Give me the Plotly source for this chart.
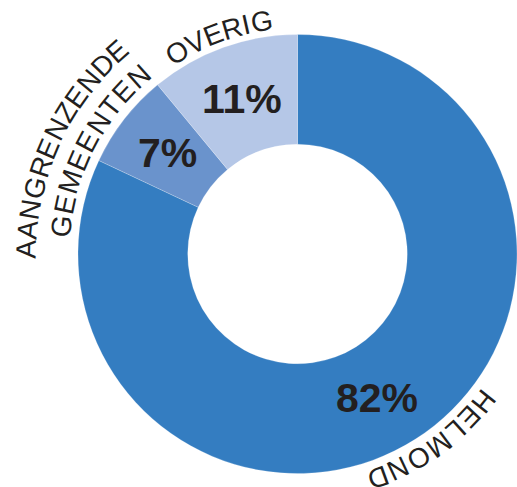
import math
import plotly.graph_objects as go

labels = ["HELMOND", "AANGRENZENDE GEMEENTEN", "OVERIG"]
values = [82, 7, 11]
pct_text = ["82%", "7%", "11%"]
colors = ["#347dc1", "#6a93cc", "#b5c7e7"]

W, H = 517, 487
dom_x = [78 / W, 1.0]
dom_y = [13 / H, 453 / H]
HOLE = 0.5

fig = go.Figure(go.Pie(
    labels=labels,
    values=values,
    textinfo="none",
    marker=dict(colors=colors, line=dict(color="rgba(255,255,255,0.35)", width=0.6)),
    hole=HOLE,
    sort=False,
    direction="clockwise",
    rotation=0,
    showlegend=False,
    domain=dict(x=dom_x, y=dom_y),
    hoverinfo="label+percent",
))

# geometry of the ring in pixels
cx = (dom_x[0] + dom_x[1]) / 2 * W
cy = H - (dom_y[0] + dom_y[1]) / 2 * H
R = min((dom_x[1] - dom_x[0]) * W, (dom_y[1] - dom_y[0]) * H) / 2

FONT = "Liberation Sans, Arial, Helvetica, sans-serif"
INK = "#231f20"


def to_paper(theta_deg, r):
    a = math.radians(theta_deg)
    px = cx + r * math.sin(a)
    py = cy - r * math.cos(a)
    return px / W, 1 - py / H


# percentage labels at the middle of each slice (angle from data)
total = sum(values)
pct_angle_tweak = [3.5, 0, 0]
cum = 0
for v, t, tw in zip(values, pct_text, pct_angle_tweak):
    mid = (cum + v / 2) / total * 360
    mid = mid - 360 if mid > 180 else mid
    cum += v
    x, y = to_paper(mid + tw, R * (1 + HOLE) / 2)
    fig.add_annotation(x=x, y=y, xref="paper", yref="paper", text=t,
                       showarrow=False, xanchor="center", yanchor="middle",
                       font=dict(family=FONT, size=41, color=INK, weight="bold"))

# curved outer labels: letters placed one by one along an arc
CHAR_W = {"A": .667, "N": .722, "G": .778, "R": .722, "E": .667, "Z": .611,
          "D": .722, "M": .833, "T": .611, "O": .778, "V": .667, "I": .278,
          "H": .722, "L": .556, " ": .278}
LSIZE = 28
# (text line, centre angle clockwise from 12 o'clock, letter-centre radius, tracking px)
arc_lines = [
    ("HELMOND", 144.2, 237, 2.0),
    ("AANGRENZENDE", -65.3, 271, 0.8),
    ("GEMEENTEN", -62.6, 238, 2.0),
    ("OVERIG", -19.8, 235, 0.6),
]
for txt, ang_c, rc, track in arc_lines:
    widths = [CHAR_W[c] * LSIZE + track for c in txt]
    total_w = sum(widths) - track
    pos = -total_w / 2
    for c, w in zip(txt, widths):
        centre = pos + (w - track) / 2
        theta = ang_c + math.degrees(centre / rc)
        x, y = to_paper(theta, rc)
        fig.add_annotation(x=x, y=y, xref="paper", yref="paper", text=c,
                           showarrow=False, textangle=theta,
                           xanchor="center", yanchor="middle",
                           font=dict(family=FONT, size=LSIZE, color=INK))
        pos += w

fig.update_layout(
    width=W, height=H,
    margin=dict(l=0, r=0, t=0, b=0),
    paper_bgcolor="white",
    plot_bgcolor="white",
)

fig.write_html("out.html", config={"displayModeBar": False},
               post_script="document.body.style.margin='0';document.body.style.overflow='hidden';")
